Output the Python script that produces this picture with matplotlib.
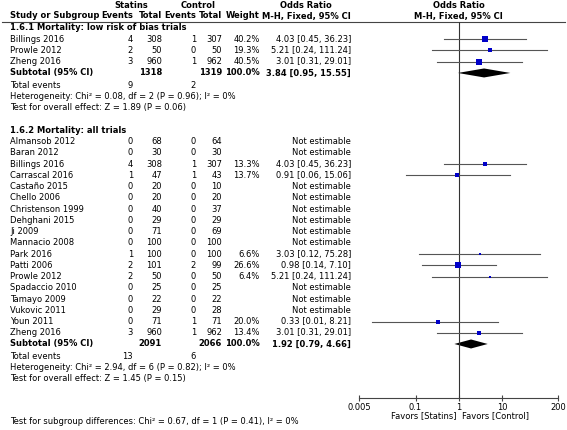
import matplotlib
matplotlib.use("Agg")
import matplotlib.pyplot as plt
from matplotlib.ticker import NullLocator

# ---- data: 1.6.1 Mortality: low risk of bias trials
g1_title = "1.6.1 Mortality: low risk of bias trials"
g1_names = ["Billings 2016", "Prowle 2012", "Zheng 2016"]
g1_ev_s = [4, 2, 3]
g1_tot_s = [308, 50, 960]
g1_ev_c = [1, 0, 1]
g1_tot_c = [307, 50, 962]
g1_weight = [40.2, 19.3, 40.5]
g1_or = [4.03, 5.21, 3.01]
g1_lo = [0.45, 0.24, 0.31]
g1_hi = [36.23, 111.24, 29.01]
g1_subtotal = [1318, 1319, 100.0, 3.84, 0.95, 15.55]
g1_events = [9, 2]
g1_het = "Heterogeneity: Chi² = 0.08, df = 2 (P = 0.96); I² = 0%"
g1_test = "Test for overall effect: Z = 1.89 (P = 0.06)"

# ---- data: 1.6.2 Mortality: all trials
g2_title = "1.6.2 Mortality: all trials"
g2_names = ["Almansob 2012", "Baran 2012", "Billings 2016", "Carrascal 2016",
            "Castaño 2015", "Chello 2006", "Christenson 1999", "Dehghani 2015",
            "Ji 2009", "Mannacio 2008", "Park 2016", "Patti 2006", "Prowle 2012",
            "Spadaccio 2010", "Tamayo 2009", "Vukovic 2011", "Youn 2011", "Zheng 2016"]
g2_ev_s = [0, 0, 4, 1, 0, 0, 0, 0, 0, 0, 1, 2, 2, 0, 0, 0, 0, 3]
g2_tot_s = [68, 30, 308, 47, 20, 20, 40, 29, 71, 100, 100, 101, 50, 25, 22, 29, 71, 960]
g2_ev_c = [0, 0, 1, 1, 0, 0, 0, 0, 0, 0, 0, 2, 0, 0, 0, 0, 1, 1]
g2_tot_c = [64, 30, 307, 43, 10, 20, 37, 29, 69, 100, 100, 99, 50, 25, 22, 28, 71, 962]
g2_weight = [None, None, 13.3, 13.7, None, None, None, None, None, None,
             6.6, 26.6, 6.4, None, None, None, 20.0, 13.4]
g2_or = [None, None, 4.03, 0.91, None, None, None, None, None, None,
         3.03, 0.98, 5.21, None, None, None, 0.33, 3.01]
g2_lo = [None, None, 0.45, 0.06, None, None, None, None, None, None,
         0.12, 0.14, 0.24, None, None, None, 0.01, 0.31]
g2_hi = [None, None, 36.23, 15.06, None, None, None, None, None, None,
         75.28, 7.10, 111.24, None, None, None, 8.21, 29.01]
g2_subtotal = [2091, 2066, 100.0, 1.92, 0.79, 4.66]
g2_events = [13, 6]
g2_het = "Heterogeneity: Chi² = 2.94, df = 6 (P = 0.82); I² = 0%"
g2_test = "Test for overall effect: Z = 1.45 (P = 0.15)"

subgroup_test = "Test for subgroup differences: Chi² = 0.67, df = 1 (P = 0.41), I² = 0%"

ticks = [0.005, 0.1, 1, 10, 200]
tick_labels = ["0.005", "0.1", "1", "10", "200"]

# ---- layout (pixels)
W, H = 567, 430
FS = 6.0
DY = 11.24
X_NAME = 10
X_EVS, X_TOTS, X_EVC, X_TOTC, X_W, X_OR = 133, 162, 196, 222, 260, 351
AX_L, AX_R = 359.3, 558.3
AX_TOP, AX_BOT = 21.7, 398
LINE_C = "#444444"
BOX_C = "#0000c8"

fig = plt.figure(figsize=(W / 100, H / 100), dpi=100)
ax = fig.add_axes([0, 0, 1, 1])
ax.set_xlim(0, W)
ax.set_ylim(H, 0)
ax.axis("off")

# forest panel: log odds-ratio axis
axp = fig.add_axes([AX_L / W, 1 - AX_BOT / H, (AX_R - AX_L) / W, (AX_BOT - AX_TOP) / H])
axp.set_xscale("log")
axp.set_xlim(ticks[0], ticks[-1])
axp.set_ylim(AX_BOT, AX_TOP)
axp.patch.set_visible(False)
for s in ["top", "left", "right"]:
    axp.spines[s].set_visible(False)
axp.spines["bottom"].set_color(LINE_C)
axp.spines["bottom"].set_linewidth(0.8)
axp.set_yticks([])
axp.set_xticks(ticks)
axp.set_xticklabels(tick_labels)
axp.xaxis.set_minor_locator(NullLocator())
axp.tick_params(axis="x", direction="inout", length=5, width=0.8, color=LINE_C,
                labelsize=FS, pad=0.8)
axp.axvline(1, color="#333333", lw=0.8)


def txt(x, y, s, ha="right", bold=False):
    ax.text(x, y, s, ha=ha, va="center", fontsize=FS,
            fontweight="bold" if bold else "normal")


# headers
txt(131, 5, "Statins", ha="center", bold=True)
txt(198, 5, "Control", ha="center", bold=True)
txt(306, 5, "Odds Ratio", ha="center", bold=True)
txt(458.7, 5, "Odds Ratio", ha="center", bold=True)
txt(X_NAME, 16, "Study or Subgroup", ha="left", bold=True)
for x, s in [(X_EVS, "Events"), (X_TOTS, "Total"), (X_EVC, "Events"),
             (X_TOTC, "Total"), (X_W, "Weight")]:
    txt(x, 16, s, bold=True)
txt(306, 16, "M-H, Fixed, 95% CI", ha="center", bold=True)
txt(458.7, 16, "M-H, Fixed, 95% CI", ha="center", bold=True)
ax.plot([2, 565], [AX_TOP, AX_TOP], color=LINE_C, lw=0.8)

max_w = 40.5


def group(y, title, names, ev_s, tot_s, ev_c, tot_c, weight, orr, lo, hi,
          subtotal, events, het, test):
    txt(X_NAME, y, title, ha="left", bold=True)
    for i, name in enumerate(names):
        y += DY
        txt(X_NAME, y, name, ha="left")
        txt(X_EVS, y, str(ev_s[i]))
        txt(X_TOTS, y, str(tot_s[i]))
        txt(X_EVC, y, str(ev_c[i]))
        txt(X_TOTC, y, str(tot_c[i]))
        if weight[i] is None:
            txt(X_OR, y, "Not estimable")
            continue
        txt(X_W, y, f"{weight[i]:.1f}%")
        txt(X_OR, y, f"{orr[i]:.2f} [{lo[i]:.2f}, {hi[i]:.2f}]")
        axp.plot([lo[i], hi[i]], [y, y], color="#555555", lw=0.8)
        # box area proportional to weight
        side = 6.7 * (weight[i] / max_w) ** 0.5
        axp.plot(orr[i], y, marker="s", ms=side * 0.72, color=BOX_C, mec=BOX_C, mew=0)
    y += DY
    ts, tc, tw, so, sl, sh = subtotal
    txt(X_NAME, y, "Subtotal (95% CI)", ha="left", bold=True)
    txt(X_TOTS, y, str(ts), bold=True)
    txt(X_TOTC, y, str(tc), bold=True)
    txt(X_W, y, f"{tw:.1f}%", bold=True)
    txt(X_OR, y, f"{so:.2f} [{sl:.2f}, {sh:.2f}]", bold=True)
    axp.fill([sl, so, sh, so], [y, y - 4.5, y, y + 4.5], color="black", lw=0)
    y += 12.5
    txt(X_NAME, y, "Total events", ha="left")
    txt(X_EVS, y, str(events[0]))
    txt(X_EVC, y, str(events[1]))
    y += DY
    txt(X_NAME, y, het, ha="left")
    y += DY
    txt(X_NAME, y, test, ha="left")
    return y


y = group(28, g1_title, g1_names, g1_ev_s, g1_tot_s, g1_ev_c, g1_tot_c, g1_weight,
          g1_or, g1_lo, g1_hi, g1_subtotal, g1_events, g1_het, g1_test)
group(y + 2 * DY, g2_title, g2_names, g2_ev_s, g2_tot_s, g2_ev_c, g2_tot_c, g2_weight,
      g2_or, g2_lo, g2_hi, g2_subtotal, g2_events, g2_het, g2_test)

txt(456.5, 416, "Favors [Statins]")
txt(462.5, 416, "Favors [Control]", ha="left")
txt(X_NAME, 422, subgroup_test, ha="left")

fig.savefig("out.png", dpi=100)
